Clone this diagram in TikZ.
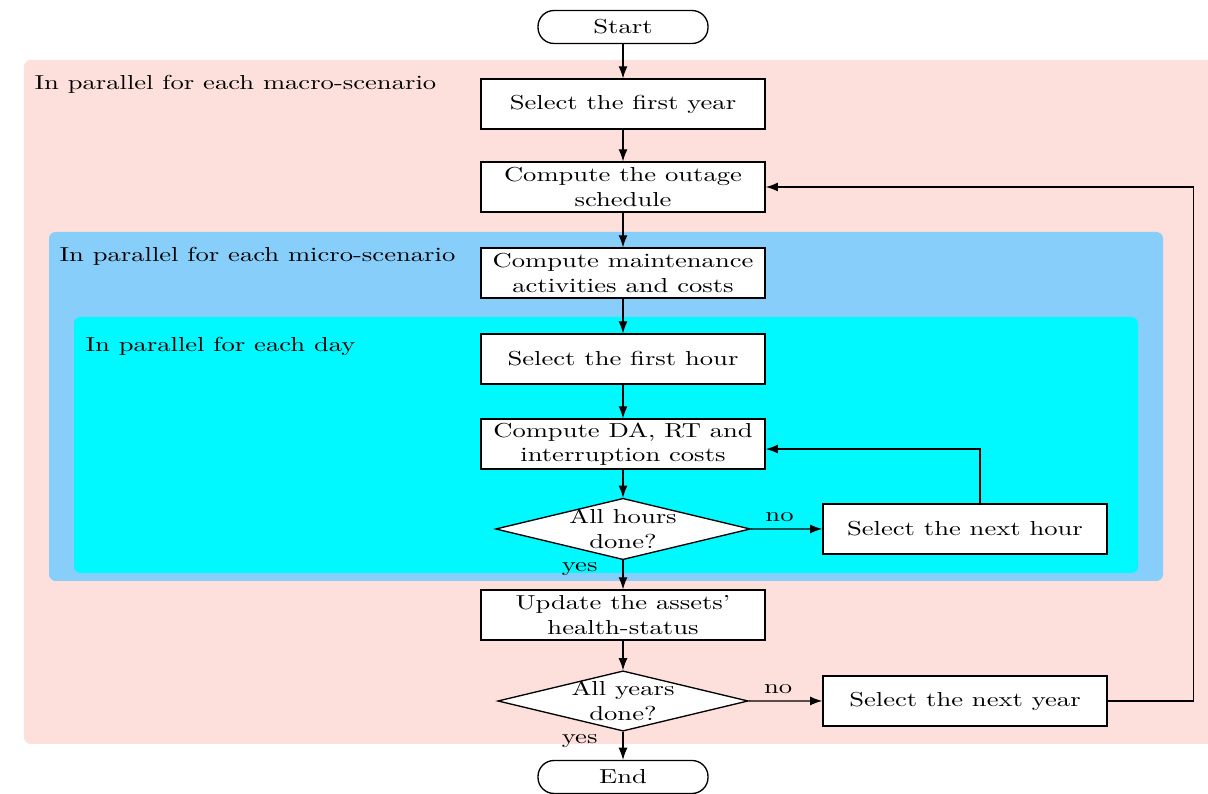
\documentclass[tikz,border=0pt]{standalone}
\usetikzlibrary{shapes.geometric,arrows.meta}

\definecolor{macrobg}{RGB}{253,224,219}
\definecolor{microbg}{RGB}{135,206,250}
\definecolor{daybg}{RGB}{0,248,255}

\begin{document}
\begin{tikzpicture}[x=0.3759pt, y=-0.4946pt, yscale=0.76,
  every node/.append style={transform shape},
  >={Latex[length=4.6pt,width=3.4pt]},
  box/.style={draw, fill=white, line width=0.5pt, align=center,
    minimum width=106.8pt, minimum height=24.7pt, inner sep=1.5pt},
  decision/.style={diamond, draw, fill=white, line width=0.5pt, align=center,
    aspect=3.16, inner sep=-0.66pt},
  terminal/.style={draw, fill=white, line width=0.5pt, rounded corners=6pt,
    minimum width=63.9pt, minimum height=16.3pt},
  region/.style={rounded corners=2.5pt},
  arrow/.style={->, line width=0.5pt}]
  \useasboundingbox (0,0) rectangle (1208,794);

  % nested parallel regions
  \begin{scope}
    \clip (0,0) rectangle (1208,794);
    \fill[macrobg, region] (24,60) rectangle (1230,744);
  \end{scope}
  \fill[microbg, region] (49,232) rectangle (1163,581);
  \fill[daybg, region] (74,317) rectangle (1138,573);

  \node[anchor=west, inner sep=0pt] (macrolabel) at (34,84) {In parallel for each macro-scenario};
  \node[anchor=west, inner sep=0pt] (microlabel) at (59,256) {In parallel for each micro-scenario};
  \node[anchor=west, inner sep=0pt] (daylabel) at (85,346) {In parallel for each day};

  % main column
  \node[terminal] (start) at (623,27) {Start};
  \node[box] (firstyear) at (623,104) {Select the first year};
  \node[box] (outage) at (623,187) {Compute the outage\\schedule};
  \node[box] (maint) at (623,273) {Compute maintenance\\activities and costs};
  \node[box] (firsthour) at (623,359) {Select the first hour};
  \node[box] (compda) at (623,444) {Compute DA, RT and\\interruption costs};
  \node[decision] (hours) at (623,529) {All hours\\done?};
  \node[box] (nexthour) at (965,529) {Select the next hour};
  \node[box] (health) at (623,615) {Update the assets'\\health-status};
  \node[decision] (years) at (623,701) {All years\\done?};
  \node[box] (nextyear) at (965,701) {Select the next year};
  \node[terminal] (end) at (623,777) {End};

  \draw[arrow] (start) -- (firstyear);
  \draw[arrow] (firstyear) -- (outage);
  \draw[arrow] (outage) -- (maint);
  \draw[arrow] (maint) -- (firsthour);
  \draw[arrow] (firsthour) -- (compda);
  \draw[arrow] (compda) -- (hours);
  \draw[arrow] (hours) -- node[pos=0.3, left=6pt] {yes} (health);
  \draw[arrow] (hours) -- node[pos=0.4, above] {no} (nexthour);
  \draw[arrow] ([xshift=5.6pt]nexthour.north) |- ([yshift=-2.5pt]compda.east);
  \draw[arrow] (health) -- (years);
  \draw[arrow] (years) -- node[pos=0.33, left=6pt] {yes} (end);
  \draw[arrow] (years) -- node[pos=0.4, above] {no} (nextyear);
  \draw[arrow] (nextyear.east) -- ++(86,0) |- (outage);

\end{tikzpicture}
\end{document}
